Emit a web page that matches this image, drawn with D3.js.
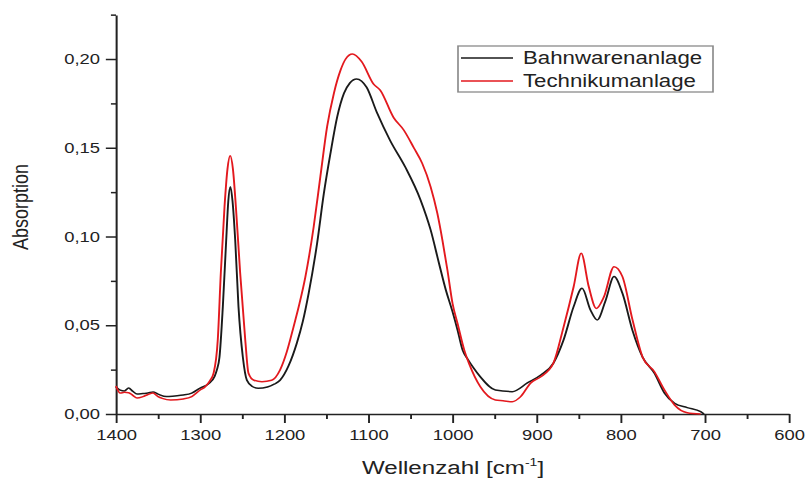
<!DOCTYPE html>
<html>
<head>
<meta charset="utf-8">
<script src="https://cdn.jsdelivr.net/npm/d3@7"></script>
<style>
  html, body { margin: 0; padding: 0; background: #fff; }
  svg { display: block; }
  text { font-family: Arial, "Liberation Sans", Helvetica, sans-serif; fill: #222; }
</style>
</head>
<body>
<svg id="chart" width="806" height="479"></svg>
<script>
// IR spectra: wavenumber (cm^-1) and absorbance for the two coating lines
const wnBahn = [1400,1395,1390,1385,1380,1375,1368,1362,1356,1350,1340,1330,1320,1310,1300,1290,1283,1280,1277,1273,1269,1266.5,1264,1261.5,1258.3,1254.4,1249.2,1244.4,1238,1231,1220,1212,1205,1195,1185,1178,1171,1161,1153,1145,1137,1129,1122,1114,1102,1090,1074,1056,1038,1026,1016,1008,1000,994,988,982,975,967,949,929,911,895,880,868,856,846,836,828,818,808,798,786,774,760,748,736,721,705,701];
const absBahn = [0.0152,0.0135,0.0130,0.0146,0.0128,0.0112,0.0115,0.0118,0.0124,0.0112,0.0098,0.0102,0.0107,0.0118,0.0146,0.0170,0.0210,0.0250,0.0320,0.0605,0.0980,0.1200,0.1280,0.1200,0.0980,0.0605,0.0320,0.0190,0.0155,0.0145,0.0152,0.0168,0.0190,0.0270,0.0400,0.0520,0.0680,0.0960,0.1240,0.1470,0.1675,0.1807,0.1865,0.1888,0.1840,0.1700,0.1540,0.1390,0.1206,0.1037,0.0848,0.0700,0.0577,0.0473,0.0360,0.0310,0.0260,0.0210,0.0135,0.0126,0.0175,0.0220,0.0287,0.0417,0.0605,0.0708,0.0586,0.0530,0.0640,0.0774,0.0680,0.0470,0.0320,0.0230,0.0118,0.0060,0.0036,0.0013,0.0000];

const wnTech = [1400,1395,1390,1385,1380,1375,1368,1362,1356,1350,1345,1335,1320,1310,1300,1294,1288,1284,1279,1275.4,1271,1267.5,1264.3,1261,1257.5,1252.4,1246.4,1242.5,1236,1226.5,1215,1205,1197,1189,1182,1175,1165,1157,1149,1141,1133,1127,1119,1108,1094,1086,1070,1058,1046,1036,1026,1018,1012,1006,1000,994,986,980,967,949,940,929,919,907,895,880,868,856,847,838,829,820,808,798,786,774,760,748,736,721,705];
const absTech = [0.0158,0.0118,0.0122,0.0120,0.0105,0.0090,0.0098,0.0110,0.0118,0.0098,0.0088,0.0079,0.0085,0.0098,0.0135,0.0154,0.0190,0.0230,0.0420,0.0794,0.1168,0.1380,0.1455,0.1380,0.1168,0.0794,0.0420,0.0230,0.0190,0.0182,0.0190,0.0248,0.0350,0.0490,0.0620,0.0770,0.1055,0.1340,0.1620,0.1807,0.1938,0.2000,0.2028,0.1985,0.1860,0.1825,0.1670,0.1600,0.1500,0.1412,0.1280,0.1130,0.0980,0.0810,0.0624,0.0510,0.0360,0.0280,0.0154,0.0079,0.0075,0.0069,0.0098,0.0175,0.0210,0.0287,0.0490,0.0717,0.0905,0.0717,0.0595,0.0660,0.0830,0.0774,0.0530,0.0320,0.0238,0.0135,0.0051,0.0007,0.0000];

const seriesNames = ["Bahnwarenanlage", "Technikumanlage"];
const seriesColors = ["#1a1a1a", "#e3191e"];

const xMajorTicks = [1400,1300,1200,1100,1000,900,800,700,600];
const xMinorTicks = [1350,1250,1150,1050,950,850,750,650];
const yMajorTicks = [0.00,0.05,0.10,0.15,0.20];
const yMinorTicks = [0.025,0.075,0.125,0.175,0.225];

// the whole figure is laid out in a frame stretched horizontally
const SX = 1.27;

const svg = d3.select("#chart");
const root = svg.append("g").attr("transform", `scale(${SX},1)`);

const x = d3.scaleLinear().domain([1400, 600]).range([116 / SX, 789 / SX]);
const y = d3.scaleLinear().domain([0, 0.2248]).range([414, 15]);

const fmt = d3.format(".2f");
const comma = v => fmt(v).replace(".", ",");

// minor ticks first (no labels)
root.append("g")
  .attr("transform", `translate(0,${y(0)})`)
  .call(d3.axisBottom(x).tickValues(xMinorTicks).tickSize(5).tickFormat(""))
  .call(g => g.select(".domain").remove());
root.append("g")
  .attr("transform", `translate(${x(1400)},0)`)
  .call(d3.axisLeft(y).tickValues(yMinorTicks).tickSize(4).tickFormat(""))
  .call(g => g.select(".domain").remove());

// major axes
root.append("g")
  .attr("transform", `translate(0,${y(0)})`)
  .call(d3.axisBottom(x).tickValues(xMajorTicks).tickSize(9).tickPadding(7).tickSizeOuter(0).tickFormat(d3.format("d")));
root.append("g")
  .attr("transform", `translate(${x(1400)},0)`)
  .call(d3.axisLeft(y).tickValues(yMajorTicks).tickSize(8).tickPadding(4.6).tickSizeOuter(0).tickFormat(comma));

root.selectAll(".tick line").attr("stroke", "#222").attr("stroke-width", 1.5);
root.selectAll(".domain").attr("stroke", "#222").attr("stroke-width", 1.6);
root.selectAll(".tick text")
  .style("font-family", "Arial, 'Liberation Sans', sans-serif")
  .style("font-size", "14.5px")
  .attr("fill", "#1e1e1e");

// spectra
const line = d3.line()
  .x(d => x(d[0]))
  .y(d => y(d[1]))
  .curve(d3.curveMonotoneX);

const seriesData = [
  d3.zip(wnBahn, absBahn),
  d3.zip(wnTech, absTech)
];

root.append("g").selectAll("path")
  .data(seriesData)
  .join("path")
  .attr("d", line)
  .attr("fill", "none")
  .attr("stroke", (d, i) => seriesColors[i])
  .attr("stroke-width", 1.5)
  .attr("stroke-linejoin", "round");

// axis titles
root.append("text")
  .attr("transform", `translate(${28 / SX},207) rotate(-90)`)
  .attr("text-anchor", "middle")
  .style("font-size", "18px")
  .text("Absorption");

const xt = root.append("text")
  .attr("x", 453 / SX)
  .attr("y", 474)
  .attr("text-anchor", "middle")
  .style("font-size", "19px");
xt.append("tspan").text("Wellenzahl [cm");
xt.append("tspan").attr("dy", -8).style("font-size", "11px").text("-1");
xt.append("tspan").attr("dy", 8).text("]");

// legend
const lg = root.append("g");
lg.append("rect")
  .attr("x", 458 / SX).attr("y", 46)
  .attr("width", (713 - 458) / SX).attr("height", 46)
  .attr("fill", "#fff")
  .attr("stroke", "#8a8a8a")
  .attr("stroke-width", 1.3);
const legendRows = [58, 81];
seriesNames.forEach((name, i) => {
  lg.append("line")
    .attr("x1", 461 / SX).attr("x2", 513 / SX)
    .attr("y1", legendRows[i]).attr("y2", legendRows[i])
    .attr("stroke", seriesColors[i])
    .attr("stroke-width", 1.6);
  lg.append("text")
    .attr("x", 523 / SX)
    .attr("y", legendRows[i] + 6.3)
    .style("font-size", "17.5px")
    .text(name);
});
</script>
</body>
</html>
